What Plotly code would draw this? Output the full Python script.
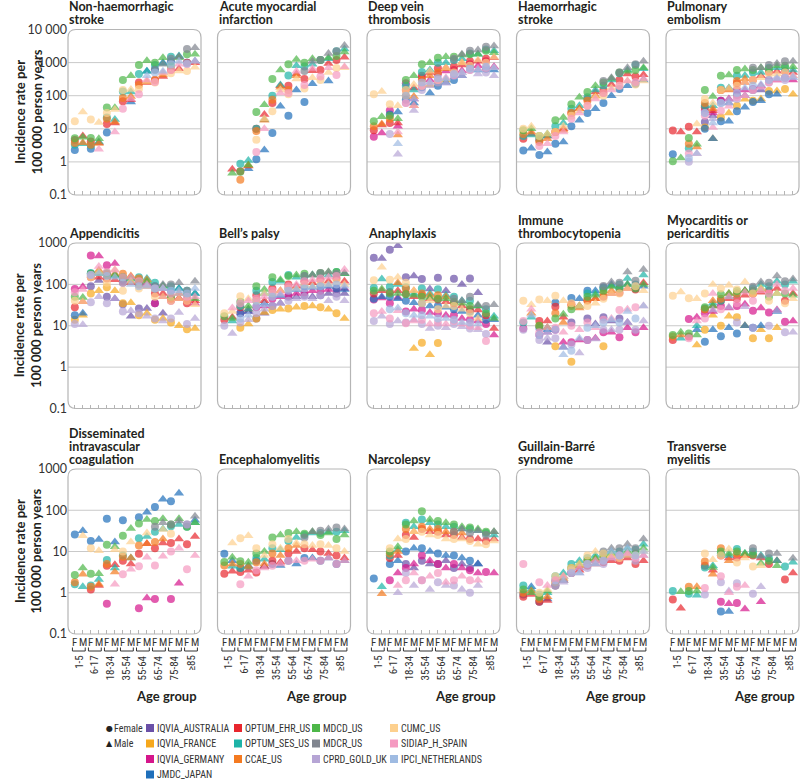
import plotly.graph_objects as go

N = None  # no estimate shown

age_groups = ["1-5", "6-17", "18-34", "35-54", "55-64", "65-74", "75-84", "≥85"]
sex_labels = ["F", "M"]

db_codes = ["AU", "FR", "DE", "JP", "EHR", "SES", "CCAE", "MDCD", "MDCR", "CPRD", "CUMC", "SIDIAP", "IPCI"]
db_names = ["IQVIA_AUSTRALIA", "IQVIA_FRANCE", "IQVIA_GERMANY", "JMDC_JAPAN", "OPTUM_EHR_US",
            "OPTUM_SES_US", "CCAE_US", "MDCD_US", "MDCR_US", "CPRD_GOLD_UK", "CUMC_US",
            "SIDIAP_H_SPAIN", "IPCI_NETHERLANDS"]
db_colors = ["#6a50a7", "#f6a81c", "#d5168b", "#1f6fba", "#e8262d", "#1db3a7", "#f47a20",
             "#4db748", "#80858f", "#b6a5d5", "#fdd08e", "#f59ac1", "#9fbbe2"]

# values per database: F/M pairs for each age group (16 values)
nonhaem_stroke = {
    "MDCD": [5.2, 5.5, 5.3, 5, 44, 43, 300, 400, 850, 1150, 1000, 1400, 800, 1400, 1800, 1800],
    "SES": [3.3, 3.5, 3.2, 4, 22, 19, 135, 130, 450, 550, 850, 950, 1500, 1600, N, N],
    "EHR": [4.6, 6, 4.1, 3.8, 14, 15, 68, 75, 250, 250, 300, 380, 600, 650, 1000, 1000],
    "CCAE": [3.7, 3.8, 3.3, 3.6, 20, 16, 85, 95, 210, 260, 300, 420, N, N, N, N],
    "CUMC": [17, 32, 19, 15.5, 30, 38, 150, 155, 160, 270, 250, 480, 480, 560, 560, 730],
    "JP": [2.3, N, 2.5, N, 7.7, N, N, 65, N, 550, 620, 1000, 1100, 1500, 1000, 1100],
    "SIDIAP": [N, N, N, 2.4, N, 8, 40, 80, 110, 300, 260, 500, 600, 900, 900, 1100],
    "MDCR": [N, N, N, N, N, N, N, N, N, N, 600, 900, 1300, 1500, 2600, 2800],
    "IPCI": [N, N, N, N, N, N, N, N, N, 400, 500, 550, 900, 1100, 950, 1100],
}
ami = {
    "MDCD": [N, 0.45, 0.5, 0.8, 32, 53, 320, 600, 900, 1250, 1000, 1300, 1200, 1400, 1600, 2100],
    "SES": [N, N, 0.87, 1.1, 10, 19, 100, 210, 410, 800, 760, 900, 1200, 1300, 2200, 2600],
    "EHR": [N, 0.6, 0.52, 0.75, 10, 27, 60, 200, 200, 450, 320, 570, 600, 950, 1200, 1450],
    "CCAE": [N, N, 0.29, 0.78, 8.5, 18, 75, 180, 150, 400, N, N, N, N, N, N],
    "CUMC": [N, N, N, N, 4.7, 20, 34, 150, 110, 320, 165, 350, 300, 500, 690, 700],
    "SIDIAP": [N, N, N, N, 2, 10, N, 120, 120, 550, 210, 670, 380, 700, 420, 750],
    "JP": [N, N, N, 0.62, 1.2, 2.3, 7.5, 48, 25, 150, 65, 230, N, 280, N, N],
    "MDCR": [N, N, N, N, N, N, N, N, N, N, 560, 1100, 1200, 1900, 2200, 3300],
}
dvt = {
    "CUMC": [110, 135, 55, 50, 150, 220, 200, 550, 300, 700, 500, 1000, 800, 1200, 1000, 1450],
    "MDCD": [17, 23, 25, 20, 300, 400, 900, 1000, 1400, 1500, 1500, 1700, 1800, 1800, 2300, 2000],
    "CCAE": [12, 14, 20, 6.5, 100, 95, 300, 400, 500, 650, N, 1000, N, N, N, N],
    "EHR": [9, 13, 15, 15, 150, 170, 400, 500, 680, 700, 760, 850, 1100, 1100, 1300, 1400],
    "DE": [5.7, 7.5, 36, 12, 240, 80, 350, 300, 450, 560, 600, 570, 900, 800, 1100, 750],
    "JP": [N, N, 27, 32, 75, 60, 180, 120, 200, 250, 300, 400, 720, 600, 650, 600],
    "SES": [N, N, N, N, 200, 150, 520, 600, 1000, 1000, 1200, 1300, 1900, 1800, 2500, 2300],
    "MDCR": [N, N, N, N, N, N, N, N, N, N, 1300, 1800, 2300, 2400, 3000, 3200],
    "CPRD": [N, N, 7, 1.7, 60, 36, 150, 200, 250, 240, 400, 400, 600, 450, 500, 400],
    "IPCI": [N, N, N, 3.5, 100, 80, 250, 250, 340, 320, 450, 500, 650, 600, 750, 700],
    "SIDIAP": [N, N, N, 8, 60, 50, 200, 250, 300, 350, 420, 500, 600, 650, 700, 700],
    "FR": [N, N, N, N, N, 50, N, 210, 250, 300, N, N, N, N, N, N],
}
haem_stroke = {
    "MDCD": [9, 10, 6, 7, 18, 22, 55, 90, 130, 200, 250, 330, 500, 550, 600, 700],
    "SES": [6, 6.5, 5, 6, 12, 15, 40, 50, 90, 150, 200, 300, 480, 600, 850, 650],
    "EHR": [5, 7, 4.5, 6, 8, 10, 30, 40, 80, 130, 150, 220, 300, 450, 380, 430],
    "CCAE": [7, 8, 4, 5, 8, 9, 30, 40, 70, 100, 120, N, N, N, N, N],
    "CUMC": [10, 12, 6, 7, 8, 12, 25, 35, 50, 90, 100, 170, 200, 280, 220, 280],
    "JP": [2.2, 2.6, 1.6, 2, 3.5, 4, 12, 18, 30, 40, 60, 100, 160, 200, 230, 300],
    "SIDIAP": [N, N, 3, 3.5, 6, 8, 20, 30, 50, 80, 120, 150, 200, 280, 260, 330],
    "MDCR": [N, N, N, N, N, N, N, N, N, N, 280, 350, 500, 700, 900, 1100],
}
pe = {
    "EHR": [8.8, 8, 11.5, 8, 45, 35, 150, 160, 240, 250, 300, 400, 520, 550, 550, 500],
    "MDCD": [1.05, 1.3, 5.3, 3.4, 150, 95, 400, 420, 600, 640, 600, 700, 650, 800, 800, 750],
    "JP": [1.7, N, N, N, 10, 5, 17, 17, 34, 45, 65, 70, 110, 110, N, N],
    "CCAE": [N, N, 3.5, 2.8, 60, 40, 150, 150, 280, 320, N, N, N, N, N, N],
    "SES": [N, N, 2.6, N, 50, 50, 175, 170, 400, 410, 500, 500, 700, 700, 700, 600],
    "SIDIAP": [N, N, 1.8, 1.75, 25, 11, 35, 48, 90, 100, 150, 180, 250, 300, 350, 400],
    "IPCI": [N, N, 1.3, 1.8, 30, 15, 60, 60, 120, 170, 200, 220, 300, 330, 350, 360],
    "CPRD": [N, N, 1, N, 30, 20, 60, 75, 80, 100, 150, 180, 250, 360, 300, 350],
    "CUMC": [N, N, N, 14, 80, 60, 150, 165, 200, 250, 300, 350, 450, 450, 500, 400],
    "AU": [N, N, N, N, 16, 25, 70, 60, 105, 100, 150, 150, N, N, N, N],
    "DE": [N, N, N, N, 35, 30, 70, 80, 150, 150, 160, 200, 300, 300, 350, 300],
    "FR": [N, N, N, N, 11, 5, 22, 30, 50, 78, 70, 80, 140, 140, 160, 110],
    "MDCR": [N, N, N, N, N, N, N, N, N, N, 700, 700, 850, 950, 1100, 1100],
}
appendicitis = {
    "DE": [78, 88, 500, 490, 290, 320, 120, 150, 100, 110, 35, 50, 40, 45, 42, 35],
    "SIDIAP": [65, 75, 170, 270, 200, 220, 150, 150, 120, 100, 80, 80, 60, 60, 50, 50],
    "MDCD": [50, 48, 180, 180, 190, 170, 150, 140, 110, 120, 80, 90, 50, 60, 55, 45],
    "EHR": [28, 38, 150, 150, 140, 130, 110, 110, 100, 90, 60, 60, 45, 46, 35, 40],
    "JP": [18, 20, 180, 200, 180, 170, 130, 120, 110, 100, 90, 80, 70, 80, 60, 60],
    "FR": [14, 18, 60, 70, 85, 70, 35, 36, 18, 20, 14, 15, 12, 10, 8.2, 8.6],
    "CPRD": [11, 10.5, 37, 50, 35, 45, 22, 23, 20, 17, 15, 13, 15, 21, 11, 15],
    "AU": [N, N, 90, 125, 50, 45, 33, 17, 26, 26, 35, 20, N, N, N, N],
    "SES": [N, N, 190, 200, 170, 160, 150, 140, 150, 140, 110, 93, 90, 80, 70, 60],
    "CCAE": [N, N, 160, 220, 170, 180, 180, 160, 140, 130, N, N, N, N, N, N],
    "CUMC": [40, 38, 150, 200, 110, 225, 70, 120, 80, 90, 50, 50, 40, 45, 40, 32],
    "IPCI": [N, N, 170, 180, 160, 150, 110, 100, 90, 90, 80, 80, 70, 70, 60, 80],
    "MDCR": [N, N, N, N, N, N, N, N, N, N, 90, 100, 100, 110, 70, 120],
}
bells_palsy = {
    "CUMC": [20, 22, 52, 45, 40, 60, 60, 70, 80, 80, 100, 90, 110, 100, 120, 100],
    "EHR": [14, 16, 28, 25, 55, 40, 80, 70, 100, 90, 120, 110, 130, 120, 140, 120],
    "MDCD": [17, 15, 38, 30, 90, 75, 150, 130, 160, 170, 180, 170, 190, 200, 200, 180],
    "SES": [N, 13, 30, 25, 70, 60, 115, 120, 170, 150, 160, 170, 180, 170, 200, 180],
    "SIDIAP": [N, 27, 35, 40, 45, 50, 70, 60, 90, 100, 120, 130, 140, 150, 160, 230],
    "FR": [N, N, 9, 11, 15, 21, 24, 25, 26, 28, 30, 30, 28, 25, 20, 15],
    "CPRD": [10, 6.5, 12, 14, 20, 25, 30, 35, 40, 45, 50, 45, 55, 40, 50, 40],
    "DE": [N, N, 20, 22, 28, 30, 45, 50, 55, 60, 65, 70, 70, 75, 80, 80],
    "AU": [N, N, N, N, 15, 20, 30, 35, 50, 50, 55, 50, 55, 60, 60, 60],
    "JP": [N, N, 20, 22, 40, 35, 60, 55, 80, 75, 90, 85, 90, 90, 80, 75],
    "MDCR": [N, N, N, N, N, N, N, N, N, N, 160, 170, 190, 200, 180, 190],
    "IPCI": [N, N, 15, 18, 30, 32, 50, 55, 70, 75, 80, 85, 90, 95, 100, 90],
}
anaphylaxis = {
    "AU": [440, 425, 690, 860, 150, 160, 135, 77, 145, 70, 137, 100, 140, 63, N, N],
    "CUMC": [127, 260, 130, 150, 110, 70, 35, 40, 25, 30, 30, 25, 20, 15, N, N],
    "SES": [82, 135, 88, 100, 85, 60, 80, 60, 76, 55, 50, 40, 40, 30, 25, 17],
    "MDCD": [70, 77, 60, 60, 58, 55, 50, 48, 45, 45, 38, 35, 30, 30, 20, 15],
    "DE": [43, 47, 35, 48, 22, 25, 24, 21, 20, 18, 18, 15, 14, 13, 11, 6],
    "EHR": [60, 70, 66, 70, 60, 50, 55, 45, 43, 38, 35, 30, 25, 24, 18, 8.6],
    "JP": [45, 50, 50, 45, 40, 36, 35, 30, 30, 28, 25, 22, 22, 18, 14, 14],
    "CPRD": [13, 17, 11, 13, 12, 14, 11, 8.6, 10, 9, 11, 9.5, 8.6, 8, 6.3, N],
    "SIDIAP": [20, 22, 15, 23, 11.5, 13, 14, 11, 12, 11, 13, 11, 10, 9, 4.3, N],
    "IPCI": [N, N, 25, 27, 20, 18, 18, 17, 15, 15, 14, 12, 12, 11, N, N],
    "FR": [N, N, N, N, N, 2.8, 3.9, 2, 3.8, N, N, N, N, N, N, N],
    "CCAE": [N, N, N, 110, 80, 70, 60, 55, 55, 50, N, N, N, N, N, N],
    "MDCR": [N, N, N, N, N, N, N, N, N, N, 45, 40, 50, 32, 30, 32],
}
itp = {
    "CUMC": [40, 32, 43, 40, 53, 40, 35, 30, 30, 35, 45, 60, 60, 80, 90, 70],
    "SIDIAP": [13, 25, 7, 9, 9, 7, 10, 8, 12, 9, 14, 15, 24, 25, 28, 30],
    "SES": [12, 16, N, N, N, N, N, N, 60, 60, 80, 90, 100, 140, 100, 170],
    "DE": [8.6, N, 6, 7, 8, 4, 4, 4.5, 4.5, 5, 7, 7, 5.3, 9, 7, 9],
    "CPRD": [8, N, 4.5, 5, 5, 3, 3.5, 2.2, 4.5, 4.8, 8, 8, 8, 12, 8, 13],
    "IPCI": [N, 18, 6, 7, 8, 2, 2.5, 5, 9, 10, 12, 14, 12, 22, 15, 30],
    "EHR": [N, N, 13, 13, 29, 16, 33, 30, 42, 45, 50, 60, 63, 80, 75, 110],
    "JP": [N, N, 9, 8, 36, 3, 47, 45, 70, 70, 85, 100, 80, 100, 80, 90],
    "CCAE": [N, 20, 10, 9, 20, 12, 30, 27, 40, 45, 60, 70, N, N, N, N],
    "MDCD": [N, N, 10, 9, 15, 19, 25, 30, 50, 55, 70, 90, 80, 100, 80, 100],
    "AU": [N, N, N, 4, N, N, 12, N, 15, 11, 16, 13, 15, 12, N, N],
    "FR": [N, N, N, N, 3.2, N, 1.35, N, N, N, 3.2, N, N, N, N, N],
    "MDCR": [N, N, N, N, N, N, N, N, N, N, 91, 115, 110, 200, 123, 230],
}
myo_pericarditis = {
    "CUMC": [53, 66, 46, 45, 60, 100, 80, 95, 75, 115, 60, 80, 40, 60, 35, 45],
    "MDCD": [6, 7, 6.5, 6, 28, 30, 58, 60, 69, 70, 70, 80, 50, 60, 60, 55],
    "CCAE": [5.5, 6, N, N, 25, 40, 45, 60, 60, 70, 60, 75, N, N, N, N],
    "EHR": [4.5, N, 5.5, N, 25, 30, 40, 45, 45, 55, 60, 65, 70, 80, 40, 60],
    "SES": [N, 5, N, 10, 26, 35, 40, 50, 60, 70, 80, 100, 90, 120, 100, 120],
    "DE": [N, N, 14.5, 16, 20, 22, 30, 27, 30, 33, 23, 27, 21, 24, 12.5, 13],
    "SIDIAP": [N, N, 5, 13, 15, 60, 25, 50, 35, 65, 40, 70, 60, 100, 70, 80],
    "JP": [N, N, N, 8, 4.1, 8, 5.6, 9, 6.5, 10, 9, 10, N, 22, N, N],
    "FR": [N, N, N, 3.4, 8, 18, 10, 17, 16, 10, 5, 8, 5, 9, N, N],
    "CPRD": [N, N, N, N, N, 24, N, 28, 12, 29, 9, N, 10, 23, 7, 7],
    "MDCR": [N, N, N, N, N, N, N, N, N, N, 88, 115, 110, 160, 120, 135],
}
dic = {
    "JP": [26, 32, 18, 19.5, 62, 17, 57, N, 68, 90, 120, 185, 165, 260, N, 57],
    "CUMC": [N, 24, 12, 10.5, N, 11, 10, 17, N, 28, N, 34, 27, N, N, N],
    "MDCD": [2.7, 4, 2.9, 2.9, 14.5, 13, 24, 36, 48, 60, 55, 62, 45, 62, 40, 50],
    "SES": [1.6, 1.4, 1.5, 2.1, 6.2, 4, 8, 7, 21, 23, 30, 35, 41, 45, 40, 50],
    "CCAE": [1.8, 2.8, 1.4, 1.6, 5, 3.2, 7.5, 7, 14, 15.5, 17, 20, N, N, N, N],
    "EHR": [N, N, 1.2, 1.5, 4.5, 4.8, 6, 5, 8.8, 15.5, 12, 16, 16, 20, 15, 23],
    "SIDIAP": [N, N, N, N, N, 1.6, 2.8, 3.7, 4.4, 7.3, 4.6, 7.7, 10, 12, 3.7, 8],
    "DE": [N, N, N, N, 0.54, N, N, N, 0.42, 0.74, 0.7, N, 0.7, 1.7, N, N],
    "MDCR": [N, N, N, N, N, N, N, N, N, N, 40, 50, 45, 55, 45, 72],
    "CPRD": [N, N, N, N, N, N, N, N, N, N, N, N, N, N, 45, N],
}
encephalomyelitis = {
    "JP": [8.8, 6, 4, 4.5, 6, 4.4, 5, 4.6, 6, 5, 7, 7, 6, 7, 5, 6],
    "MDCD": [5.6, 7.3, 5.8, 5.5, 9, 10, 22, 25, 28, 30, 27, 30, 25, 28, 20, 25],
    "CCAE": [4.6, 5, 5, 4.3, 5.5, 5, 9, 8, 12, 14, N, N, N, N, N, N],
    "EHR": [2.9, 3.3, 3.2, 3.5, 3.1, 4.3, 6, 5.5, 9, 10, 12, 11, 10, 9, 8, 7],
    "SES": [N, 4.4, 4, 4.2, 7, 6.5, 12, 11, 18, 22, 25, 28, 28, 30, 30, 32],
    "CUMC": [N, 16, 21, 24, 12, 8, 15, 12, 20, 16, 15, 14, 15, 14, 12, 10],
    "SIDIAP": [N, N, 1.6, 2.5, 3.5, 4, 4.5, 5, 6, 6, 6, 6.5, 6, 7, 5, 6],
    "MDCR": [N, N, N, N, N, N, N, N, N, N, 22, 30, 32, 35, 38, 35],
}
narcolepsy = {
    "MDCD": [N, N, 10, 13, 45, 55, 95, 60, 55, 50, 45, 40, 38, 35, 30, 30],
    "SES": [N, 1.4, 8, 11, 50, 40, 60, 50, 45, 40, 40, 35, 35, 32, 28, 25],
    "CCAE": [N, 0.95, 9, 10, 35, 30, 40, 35, 35, 30, 30, 28, N, N, N, N],
    "EHR": [N, N, 7, 8, 25, 22, 35, 30, 30, 25, 25, 22, 20, 20, 18, 20],
    "CUMC": [N, N, 12, 20, 20, 30, 30, 25, 25, 20, 20, 20, 18, 15, 15, 18],
    "JP": [2.2, N, 5, 6, 10, 12, 12, 10, 9, 8, 8, 7, 6, 5, N, N],
    "DE": [N, N, 2, 3, 4, 5, 8, 6, 5, 4, 5, 4, 3.5, 3, 3.2, 3],
    "CPRD": [N, N, N, 1, 3, 1.5, 2, 1.2, 1.8, 1.5, 1.5, 1.2, 1, 1.5, N, N],
    "SIDIAP": [N, N, N, 1.5, 2, 3, 2, 2.5, 3, 1.8, 2, 2.5, 2, 2, N, N],
    "AU": [N, N, N, N, 5, 4, 6, 5, 5, 6, 4, 5, 4, 5, N, N],
    "MDCR": [N, N, N, N, N, N, N, N, N, N, 30, 35, 28, 32, 25, 30],
}
guillain_barre = {
    "SIDIAP": [5, N, 1.8, 1.5, 2, 2.5, 3, 4, 5, 6, 6, 7, 8, 9, 7, 8],
    "SES": [1.5, 1.2, 0.9, 1, 2.5, 3, 5, 6, 7, 8, 9, 10, 10, 12, 11, 15],
    "MDCD": [1.2, 1, 0.8, 1.1, 2, 2.5, 4, 5, 6, 7, 8, 9, 8, 10, 9, 12],
    "CCAE": [1, 1.1, 0.7, 0.8, 1.8, 2.2, 4, 4.5, 6, 6.5, 7, 8, N, N, N, N],
    "EHR": [0.8, 0.9, 0.6, 0.65, 1.5, 2, 3, 3.5, 4.5, 5, 5.5, 6, 6, 7, 5, 6],
    "JP": [0.9, 1.4, 0.6, 0.7, 1.5, 2, 3, 4, 5, 6, 6, 7, 8, 8, N, N],
    "CUMC": [N, N, 1, 1.2, 2.5, 2.5, 4, 5, 8, 10, 9, 8, 7, 8, 8, 10],
    "IPCI": [N, N, N, N, 1.5, 2, 3, 3, 5, 5, 6, 10, 8, 12, 8, 10],
    "MDCR": [N, N, N, N, N, N, N, N, N, N, 10, 12, 12, 15, 12, 20],
    "CPRD": [N, N, N, N, 2, 1.8, 3.5, 3, 4, 5, 5, 7, 8, 9, 6, 8],
}
transverse_myelitis = {
    "SES": [1.1, N, 0.95, 0.87, 4.1, 4.5, 9, 8, 11.5, 9, 10, 8, 6.9, 6, 4.3, 5.5],
    "EHR": [0.68, 0.42, N, N, 4.5, 3.5, 8, 7, 7.2, 8, 8, 7, 5, 6, 2.1, 3],
    "MDCD": [N, 1.05, 1.1, 1.1, N, 4.1, 10, 9, 10, 9, 8.5, 5.2, 6, 4.5, N, N],
    "CCAE": [N, N, 1.4, 1.4, 5.7, 2.8, 12, 6, 9, 8, N, N, N, N, N, N],
    "CUMC": [N, N, N, N, 9, 6.3, 8, 11.5, 5.4, 7, 4.3, 4.5, N, N, N, N],
    "CPRD": [N, N, N, N, 0.9, N, 1.8, 1.1, 1.7, N, 0.95, 1.4, N, N, N, N],
    "SIDIAP": [N, N, N, N, 1.3, N, 2.5, 1.0, 1.4, 1.5, N, N, N, N, N, N],
    "DE": [N, N, N, N, N, N, 0.6, 0.54, 0.56, 0.4, N, 0.6, N, N, N, N],
    "JP": [N, N, N, N, N, N, 0.35, 0.35, N, N, N, N, N, N, N, N],
    "MDCR": [N, N, N, N, N, N, N, N, N, N, 12, 7.6, 9, 9, N, 6.9],
}

panel_titles = [["Non-haemorrhagic", "stroke"], ["Acute myocardial", "infarction"],
                ["Deep vein", "thrombosis"], ["Haemorrhagic", "stroke"], ["Pulmonary", "embolism"],
                ["Appendicitis"], ["Bell’s palsy"], ["Anaphylaxis"], ["Immune", "thrombocytopenia"],
                ["Myocarditis or", "pericarditis"], ["Disseminated", "intravascular", "coagulation"],
                ["Encephalomyelitis"], ["Narcolepsy"], ["Guillain-Barré", "syndrome"],
                ["Transverse", "myelitis"]]
panel_data = [nonhaem_stroke, ami, dvt, haem_stroke, pe, appendicitis, bells_palsy, anaphylaxis,
              itp, myo_pericarditis, dic, encephalomyelitis, narcolepsy, guillain_barre,
              transverse_myelitis]
row_decades = [(-1, 4), (-1, 3), (-1, 3)]

W, H = 800, 781
FONT = "Lato, 'Open Sans', sans-serif"
COND = ("'Roboto Condensed', 'Nimbus Sans Narrow', 'Arial Narrow', 'Liberation Sans Narrow', "
        "'Noto Sans Condensed', 'DejaVu Sans Condensed', sans-serif")
col_left = [68, 217.5, 367, 516.5, 666]
panel_w = 133
row_px = [(29.5, 195), (243, 408.5), (469, 634)]


def px(x):
    return x / W


def py(y):
    return 1 - y / H


def rounded_box(x0, y0, x1, y1, r=8):
    pts = [
        f"M {px(x0 + r)},{py(y0)}", f"L {px(x1 - r)},{py(y0)}",
        f"Q {px(x1)},{py(y0)} {px(x1)},{py(y0 + r)}", f"L {px(x1)},{py(y1 - r)}",
        f"Q {px(x1)},{py(y1)} {px(x1 - r)},{py(y1)}", f"L {px(x0 + r)},{py(y1)}",
        f"Q {px(x0)},{py(y1)} {px(x0)},{py(y1 - r)}", f"L {px(x0)},{py(y0 + r)}",
        f"Q {px(x0)},{py(y0)} {px(x0 + r)},{py(y0)}", "Z",
    ]
    return " ".join(pts)


fig = go.Figure()
shapes, annotations = [], []
layout = dict()

for k, (title, data) in enumerate(zip(panel_titles, panel_data), start=1):
    row, col = (k - 1) // 5, (k - 1) % 5
    lo, hi = row_decades[row]
    x0, x1 = col_left[col], col_left[col] + panel_w
    top, bottom = row_px[row]

    for code in db_codes:
        if code not in data:
            continue
        i = db_codes.index(code)
        fig.add_trace(go.Scatter(
            x=list(range(16)), y=data[code], mode="markers",
            xaxis=f"x{k}", yaxis=f"y{k}", showlegend=False, name=db_names[i],
            marker=dict(color=db_colors[i], symbol=["circle", "triangle-up"] * 8,
                        size=[8, 9] * 8, line=dict(width=0)),
        ))

    tickvals = [10 ** e for e in range(lo, hi + 1)]
    ticktext = ["0.1" if e < 0 else ("10 000" if e == 4 else str(10 ** e)) for e in range(lo, hi + 1)]
    layout[f"xaxis{k}"] = dict(
        domain=[px(x0), px(x1)], range=[-0.85, 15.75], anchor=f"y{k}",
        tickmode="array", tickvals=list(range(16)), showticklabels=False,
        ticks="inside", ticklen=4, tickwidth=1, tickcolor="#b5b5b5",
        showgrid=False, zeroline=False, showline=False, automargin=False, fixedrange=True,
    )
    layout[f"yaxis{k}"] = dict(
        domain=[py(bottom), py(top)], type="log", range=[lo - 0.002, hi + 0.002], anchor=f"x{k}",
        tickmode="array", tickvals=tickvals, ticktext=ticktext, showticklabels=(col == 0),
        ticks="", showgrid=False, zeroline=False, showline=False, automargin=False,
        fixedrange=True, tickfont=dict(family=FONT, size=12.5, color="#333333"),
    )

    # grid lines at inner decades
    for e in range(lo + 1, hi):
        yy = bottom - (e - lo) / (hi - lo) * (bottom - top)
        shapes.append(dict(type="line", xref="paper", yref="paper", x0=px(x0), x1=px(x1),
                           y0=py(yy), y1=py(yy), line=dict(color="#c9c9c9", width=1), layer="below"))
    shapes.append(dict(type="path", xref="paper", yref="paper", path=rounded_box(x0, top, x1, bottom),
                       line=dict(color="#b5b5b5", width=1.2)))

    # panel title, one annotation per line (bottom line sits just above the box)
    for n, line in enumerate(reversed(title)):
        annotations.append(dict(text=f"<b>{line}</b>", xref="paper", yref="paper", x=px(x0 - 1),
                                y=py(top - 10 - 13 * n), xanchor="left", yanchor="middle",
                                showarrow=False, font=dict(family=FONT, size=12.5, color="#231f20")))

    if row == 2:
        for j in range(16):
            annotations.append(dict(text=sex_labels[j % 2], xref=f"x{k}", yref="paper", x=j,
                                    y=py(642.5), xanchor="center", yanchor="middle", showarrow=False,
                                    font=dict(family=COND, size=11, color="#333333")))
        for g, label in enumerate(age_groups):
            fx, mx = 2 * g, 2 * g + 1
            shapes.append(dict(type="path", xref=f"x{k}", yref="paper",
                               path=f"M {fx - 0.3},{py(647.5)} L {fx - 0.3},{py(651)} "
                                    f"L {mx + 0.3},{py(651)} L {mx + 0.3},{py(647.5)}",
                               line=dict(color="#333333", width=1)))
            annotations.append(dict(text=label, xref=f"x{k}", yref="paper", x=fx + 0.5, y=py(653),
                                    xanchor="center", yanchor="top", textangle=-90, showarrow=False,
                                    font=dict(family=COND, size=11, color="#333333")))
        annotations.append(dict(text="<b>Age group</b>", xref="paper", yref="paper", x=px(x1 - 2),
                                y=py(696), xanchor="right", yanchor="middle", showarrow=False,
                                font=dict(family=FONT, size=13, color="#231f20")))

# y axis titles
for top, bottom in row_px:
    annotations.append(dict(text="<b>Incidence rate per<br>100 000 person years</b>", xref="paper",
                            yref="paper", x=px(28), y=py((top + bottom) / 2), xanchor="center",
                            yanchor="middle", textangle=-90, showarrow=False,
                            font=dict(family=FONT, size=13, color="#231f20")))

# legend
legend_cols = [db_names[0:4], db_names[4:7], db_names[7:10], db_names[10:13]]
legend_x = [150, 238, 316, 394]
legend_y = [728, 743.5, 759, 774.5]
for cx, names in zip(legend_x, legend_cols):
    for ry, name in zip(legend_y, names):
        c = db_colors[db_names.index(name)]
        shapes.append(dict(type="rect", xref="paper", yref="paper", x0=px(cx - 4), x1=px(cx + 4),
                           y0=py(ry + 4), y1=py(ry - 4), fillcolor=c, line=dict(width=0)))
        annotations.append(dict(text=name, xref="paper", yref="paper", x=px(cx + 5), y=py(ry),
                                xanchor="left", yanchor="middle", showarrow=False,
                                font=dict(family=COND, size=10, color="#333333")))
for sym, lab, ry in [("●", "Female", legend_y[0]), ("▲", "Male", legend_y[1])]:
    annotations.append(dict(text=sym, xref="paper", yref="paper", x=px(109), y=py(ry),
                            xanchor="center", yanchor="middle", showarrow=False,
                            font=dict(family="DejaVu Sans", size=8, color="#222222")))
    annotations.append(dict(text=lab, xref="paper", yref="paper", x=px(112), y=py(ry),
                            xanchor="left", yanchor="middle", showarrow=False,
                            font=dict(family=COND, size=10, color="#333333")))

fig.update_layout(
    template="none", width=W, height=H, autosize=False,
    margin=dict(l=0, r=0, t=0, b=0),
    paper_bgcolor="white", plot_bgcolor="white",
    shapes=shapes, annotations=annotations, showlegend=False,
    **layout,
)

# drop the default 8px page margin so the 800x781 figure fills the window
fig.write_html("out.html", config={"displayModeBar": False},
               post_script="document.body.style.margin = '0';")
